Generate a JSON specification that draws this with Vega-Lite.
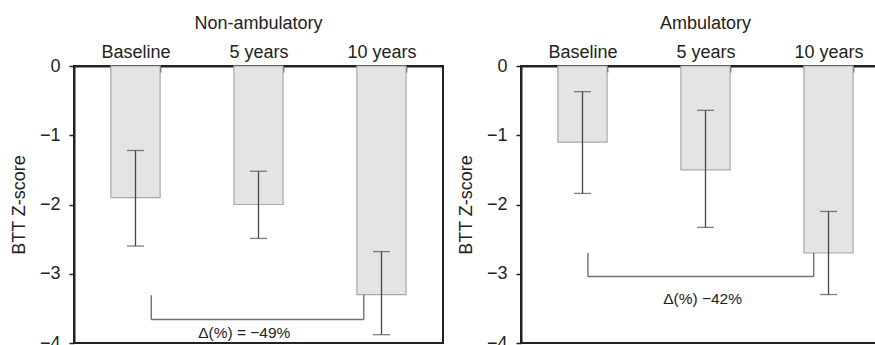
{
  "$schema": "https://vega.github.io/schema/vega-lite/v6.json",
  "background": "white",
  "padding": {"left": 9, "top": 14, "right": 0, "bottom": 0},
  "config": {
    "font": "Liberation Sans",
    "view": {"stroke": "#222222", "strokeWidth": 2},
    "axis": {
      "domainColor": "#222222", "domainWidth": 2, "tickColor": "#222222", "tickWidth": 1.5,
      "labelColor": "#222222", "titleColor": "#222222", "labelFont": "Liberation Sans",
      "titleFont": "Liberation Sans", "labelFontSize": 18, "titleFontSize": 18,
      "titleFontWeight": "normal", "grid": false
    },
    "title": {"fontSize": 18, "fontWeight": "normal", "color": "#222222", "frame": "group", "font": "Liberation Sans", "offset": 10},
    "concat": {"spacing": 12}
  },
  "datasets": {
    "bars": [
      {"group": "Non-ambulatory", "time": "Baseline", "mean": -1.9, "lo": -2.6, "hi": -1.22},
      {"group": "Non-ambulatory", "time": "5 years", "mean": -2.0, "lo": -2.49, "hi": -1.52},
      {"group": "Non-ambulatory", "time": "10 years", "mean": -3.3, "lo": -3.88, "hi": -2.68},
      {"group": "Ambulatory", "time": "Baseline", "mean": -1.1, "lo": -1.84, "hi": -0.37},
      {"group": "Ambulatory", "time": "5 years", "mean": -1.5, "lo": -2.33, "hi": -0.64},
      {"group": "Ambulatory", "time": "10 years", "mean": -2.7, "lo": -3.3, "hi": -2.1}
    ],
    "brackets": [
      {"group": "Non-ambulatory", "from": "Baseline", "to": "10 years", "mid": "5 years", "topFrom": -3.31, "topTo": -3.3, "level": -3.66, "labelY": -3.86, "label": "Δ(%) = −49%"},
      {"group": "Ambulatory", "from": "Baseline", "to": "10 years", "mid": "5 years", "topFrom": -2.7, "topTo": -2.7, "level": -3.04, "labelY": -3.37, "label": "Δ(%) −42%"}
    ]
  },
  "hconcat": [
    {
      "title": {"text": "Non-ambulatory"},
      "width": 369,
      "height": 277,
      "layer": [
        {
          "data": {"name": "bars"},
          "transform": [{"filter": "datum.group === 'Non-ambulatory'"}],
          "mark": {"type": "bar", "fill": "#e4e4e4", "stroke": "#a8a8a8", "strokeWidth": 1.2},
          "encoding": {
            "x": {"field": "time", "type": "nominal",
              "scale": {"domain": ["Baseline", "5 years", "10 years"], "paddingInner": 0.6, "paddingOuter": 0.3},
              "axis": {"orient": "top", "title": null, "labelAngle": 0, "tickBand": "extent", "tickSize": -6, "labelPadding": 11}},
            "y": {"field": "mean", "type": "quantitative",
              "scale": {"domain": [-4, 0], "nice": false},
              "axis": {"values": [0, -1, -2, -3, -4], "format": "d", "title": "BTT Z-score", "tickSize": 5, "labelPadding": 9, "titlePadding": 11}}
          }
        },
        {
          "data": {"name": "bars"},
          "transform": [{"filter": "datum.group === 'Non-ambulatory'"}],
          "mark": {"type": "rule", "color": "#484848", "strokeWidth": 1.3},
          "encoding": {
            "x": {"field": "time", "type": "nominal", "title": null},
            "y": {"field": "lo", "type": "quantitative", "title": "BTT Z-score"},
            "y2": {"field": "hi"}
          }
        },
        {
          "data": {"name": "bars"},
          "transform": [{"filter": "datum.group === 'Non-ambulatory'"}],
          "mark": {"type": "tick", "color": "#484848", "size": 17, "thickness": 1.3},
          "encoding": {
            "x": {"field": "time", "type": "nominal", "title": null},
            "y": {"field": "lo", "type": "quantitative", "title": "BTT Z-score"}
          }
        },
        {
          "data": {"name": "bars"},
          "transform": [{"filter": "datum.group === 'Non-ambulatory'"}],
          "mark": {"type": "tick", "color": "#484848", "size": 17, "thickness": 1.3},
          "encoding": {
            "x": {"field": "time", "type": "nominal", "title": null},
            "y": {"field": "hi", "type": "quantitative", "title": "BTT Z-score"}
          }
        },
        {
          "data": {"name": "brackets"},
          "transform": [{"filter": "datum.group === 'Non-ambulatory'"}],
          "mark": {"type": "rule", "color": "#707070", "strokeWidth": 1.4},
          "encoding": {
            "x": {"field": "from", "type": "nominal", "bandPosition": 0.82, "title": null},
            "y": {"field": "topFrom", "type": "quantitative", "title": "BTT Z-score"},
            "y2": {"field": "level"}
          }
        },
        {
          "data": {"name": "brackets"},
          "transform": [{"filter": "datum.group === 'Non-ambulatory'"}],
          "mark": {"type": "rule", "color": "#707070", "strokeWidth": 1.4},
          "encoding": {
            "x": {"field": "to", "type": "nominal", "bandPosition": 0.14, "title": null},
            "y": {"field": "topTo", "type": "quantitative", "title": "BTT Z-score"},
            "y2": {"field": "level"}
          }
        },
        {
          "data": {"name": "brackets"},
          "transform": [{"filter": "datum.group === 'Non-ambulatory'"}],
          "mark": {"type": "rule", "color": "#707070", "strokeWidth": 1.4},
          "encoding": {
            "x": {"field": "from", "type": "nominal", "bandPosition": 0.82, "title": null},
            "x2": {"field": "to", "bandPosition": 0.14},
            "y": {"field": "level", "type": "quantitative", "title": "BTT Z-score"}
          }
        },
        {
          "data": {"name": "brackets"},
          "transform": [{"filter": "datum.group === 'Non-ambulatory'"}],
          "mark": {"type": "text", "color": "#222222", "fontSize": 15.5, "font": "Liberation Sans", "baseline": "middle"},
          "encoding": {
            "x": {"field": "mid", "type": "nominal", "bandPosition": 0.21, "title": null},
            "y": {"field": "labelY", "type": "quantitative", "title": "BTT Z-score"},
            "text": {"field": "label"}
          }
        }
      ]
    },
    {
      "title": {"text": "Ambulatory"},
      "width": 369,
      "height": 277,
      "layer": [
        {
          "data": {"name": "bars"},
          "transform": [{"filter": "datum.group === 'Ambulatory'"}],
          "mark": {"type": "bar", "fill": "#e4e4e4", "stroke": "#a8a8a8", "strokeWidth": 1.2},
          "encoding": {
            "x": {"field": "time", "type": "nominal",
              "scale": {"domain": ["Baseline", "5 years", "10 years"], "paddingInner": 0.6, "paddingOuter": 0.3},
              "axis": {"orient": "top", "title": null, "labelAngle": 0, "tickBand": "extent", "tickSize": -6, "labelPadding": 11}},
            "y": {"field": "mean", "type": "quantitative",
              "scale": {"domain": [-4, 0], "nice": false},
              "axis": {"values": [0, -1, -2, -3, -4], "format": "d", "title": "BTT Z-score", "tickSize": 5, "labelPadding": 9, "titlePadding": 11}}
          }
        },
        {
          "data": {"name": "bars"},
          "transform": [{"filter": "datum.group === 'Ambulatory'"}],
          "mark": {"type": "rule", "color": "#484848", "strokeWidth": 1.3},
          "encoding": {
            "x": {"field": "time", "type": "nominal", "title": null},
            "y": {"field": "lo", "type": "quantitative", "title": "BTT Z-score"},
            "y2": {"field": "hi"}
          }
        },
        {
          "data": {"name": "bars"},
          "transform": [{"filter": "datum.group === 'Ambulatory'"}],
          "mark": {"type": "tick", "color": "#484848", "size": 17, "thickness": 1.3},
          "encoding": {
            "x": {"field": "time", "type": "nominal", "title": null},
            "y": {"field": "lo", "type": "quantitative", "title": "BTT Z-score"}
          }
        },
        {
          "data": {"name": "bars"},
          "transform": [{"filter": "datum.group === 'Ambulatory'"}],
          "mark": {"type": "tick", "color": "#484848", "size": 17, "thickness": 1.3},
          "encoding": {
            "x": {"field": "time", "type": "nominal", "title": null},
            "y": {"field": "hi", "type": "quantitative", "title": "BTT Z-score"}
          }
        },
        {
          "data": {"name": "brackets"},
          "transform": [{"filter": "datum.group === 'Ambulatory'"}],
          "mark": {"type": "rule", "color": "#707070", "strokeWidth": 1.4},
          "encoding": {
            "x": {"field": "from", "type": "nominal", "bandPosition": 0.61, "title": null},
            "y": {"field": "topFrom", "type": "quantitative", "title": "BTT Z-score"},
            "y2": {"field": "level"}
          }
        },
        {
          "data": {"name": "brackets"},
          "transform": [{"filter": "datum.group === 'Ambulatory'"}],
          "mark": {"type": "rule", "color": "#707070", "strokeWidth": 1.4},
          "encoding": {
            "x": {"field": "to", "type": "nominal", "bandPosition": 0.2, "title": null},
            "y": {"field": "topTo", "type": "quantitative", "title": "BTT Z-score"},
            "y2": {"field": "level"}
          }
        },
        {
          "data": {"name": "brackets"},
          "transform": [{"filter": "datum.group === 'Ambulatory'"}],
          "mark": {"type": "rule", "color": "#707070", "strokeWidth": 1.4},
          "encoding": {
            "x": {"field": "from", "type": "nominal", "bandPosition": 0.61, "title": null},
            "x2": {"field": "to", "bandPosition": 0.2},
            "y": {"field": "level", "type": "quantitative", "title": "BTT Z-score"}
          }
        },
        {
          "data": {"name": "brackets"},
          "transform": [{"filter": "datum.group === 'Ambulatory'"}],
          "mark": {"type": "text", "color": "#222222", "fontSize": 15.5, "font": "Liberation Sans", "baseline": "middle"},
          "encoding": {
            "x": {"field": "mid", "type": "nominal", "bandPosition": 0.44, "title": null},
            "y": {"field": "labelY", "type": "quantitative", "title": "BTT Z-score"},
            "text": {"field": "label"}
          }
        }
      ]
    }
  ]
}
